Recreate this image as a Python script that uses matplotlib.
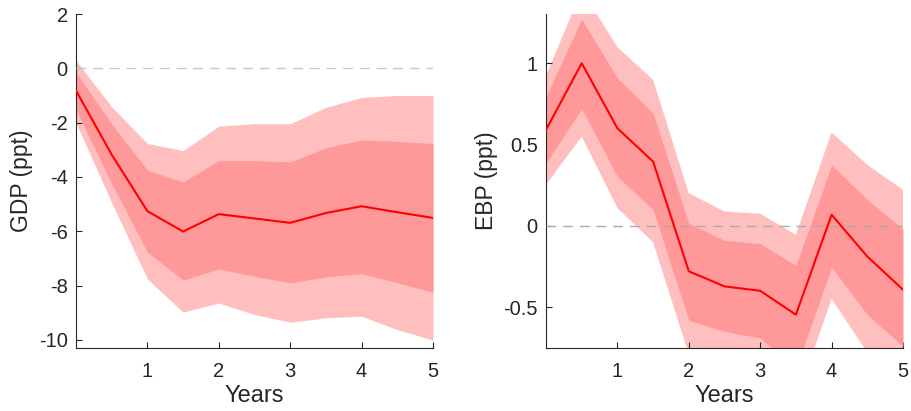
import matplotlib
matplotlib.use("Agg")
import matplotlib.pyplot as plt
import numpy as np

plt.rcParams['font.family'] = ['Liberation Sans', 'DejaVu Sans']
plt.rcParams['axes.unicode_minus'] = False

# horizon in years (half-year steps)
years = [0, 0.5, 1, 1.5, 2, 2.5, 3, 3.5, 4, 4.5, 5]

# GDP response (ppt)
gdp_med = [-0.82, -3.18, -5.26, -6.01, -5.37, -5.53, -5.69, -5.33, -5.08, -5.30, -5.51]
gdp_in_hi = [-0.15, -2.05, -3.75, -4.18, -3.40, -3.40, -3.45, -2.93, -2.64, -2.69, -2.77]
gdp_in_lo = [-1.52, -4.25, -6.77, -7.80, -7.39, -7.66, -7.90, -7.68, -7.56, -7.90, -8.25]
gdp_out_hi = [0.29, -1.42, -2.77, -3.03, -2.13, -2.04, -2.04, -1.44, -1.07, -1.00, -1.00]
gdp_out_lo = [-2.01, -4.95, -7.76, -8.98, -8.64, -9.07, -9.35, -9.19, -9.13, -9.62, -10.01]

# EBP response (ppt)
ebp_med = [0.59, 1.00, 0.60, 0.395, -0.28, -0.373, -0.40, -0.547, 0.068, -0.189, -0.393]
ebp_in_hi = [0.795, 1.272, 0.908, 0.693, 0.016, -0.09, -0.11, -0.244, 0.375, 0.16, -0.02]
ebp_in_lo = [0.385, 0.72, 0.303, 0.098, -0.582, -0.65, -0.69, -0.88, -0.254, -0.547, -0.742]
ebp_out_hi = [0.922, 1.45, 1.10, 0.898, 0.20, 0.088, 0.074, -0.055, 0.574, 0.375, 0.221]
ebp_out_lo = [0.252, 0.549, 0.109, -0.102, -0.79, -0.85, -0.95, -1.08, -0.45, -0.78, -1.10]

LIGHT = '#FFBFBF'
DARK = '#FF9999'
AXCOL = '#262626'


def irf_panel(ax, med, in_lo, in_hi, out_lo, out_hi, ylim, yticks, yticklabels, ylabel, zcol):
    ax.fill_between(years, out_lo, out_hi, color=LIGHT, linewidth=0, zorder=1)
    ax.fill_between(years, in_lo, in_hi, color=DARK, linewidth=0, zorder=2)
    ax.plot(years, med, color='#FF0000', linewidth=1.5, zorder=3)
    ax.axhline(0, color=zcol, linestyle=(0, (7, 5)), linewidth=1.0, zorder=4)
    ax.set_xlim(0, 5)
    ax.set_ylim(*ylim)
    ax.set_xticks([1, 2, 3, 4, 5])
    ax.set_yticks(yticks)
    ax.set_yticklabels(yticklabels)
    ax.set_xlabel('Years', fontsize=17, color=AXCOL, labelpad=3)
    ax.set_ylabel(ylabel, fontsize=16.5, color=AXCOL, labelpad=4)
    ax.spines['top'].set_visible(False)
    ax.spines['right'].set_visible(False)
    for s in ['left', 'bottom']:
        ax.spines[s].set_color(AXCOL)
        ax.spines[s].set_linewidth(0.8)
    ax.tick_params(direction='in', length=4, width=0.8, colors=AXCOL, labelsize=14.5)
    ax.tick_params(axis='x', pad=10)
    ax.tick_params(axis='y', pad=6)


fig = plt.figure(figsize=(9.11, 4.11), dpi=100)
ax1 = fig.add_axes([76 / 911, 63 / 411, 357 / 911, 334 / 411])
ax2 = fig.add_axes([546 / 911, 63 / 411, 357 / 911, 334 / 411])

irf_panel(ax1, gdp_med, gdp_in_lo, gdp_in_hi, gdp_out_lo, gdp_out_hi,
          (-10.3, 2), [-10, -8, -6, -4, -2, 0, 2],
          ['-10', '-8', '-6', '-4', '-2', '0', '2'], 'GDP (ppt)', '#C8C8C8')
irf_panel(ax2, ebp_med, ebp_in_lo, ebp_in_hi, ebp_out_lo, ebp_out_hi,
          (-0.752, 1.303), [-0.5, 0, 0.5, 1],
          ['-0.5', '0', '0.5', '1'], 'EBP (ppt)', '#AAAAAA')

fig.savefig('out.png', dpi=100)
